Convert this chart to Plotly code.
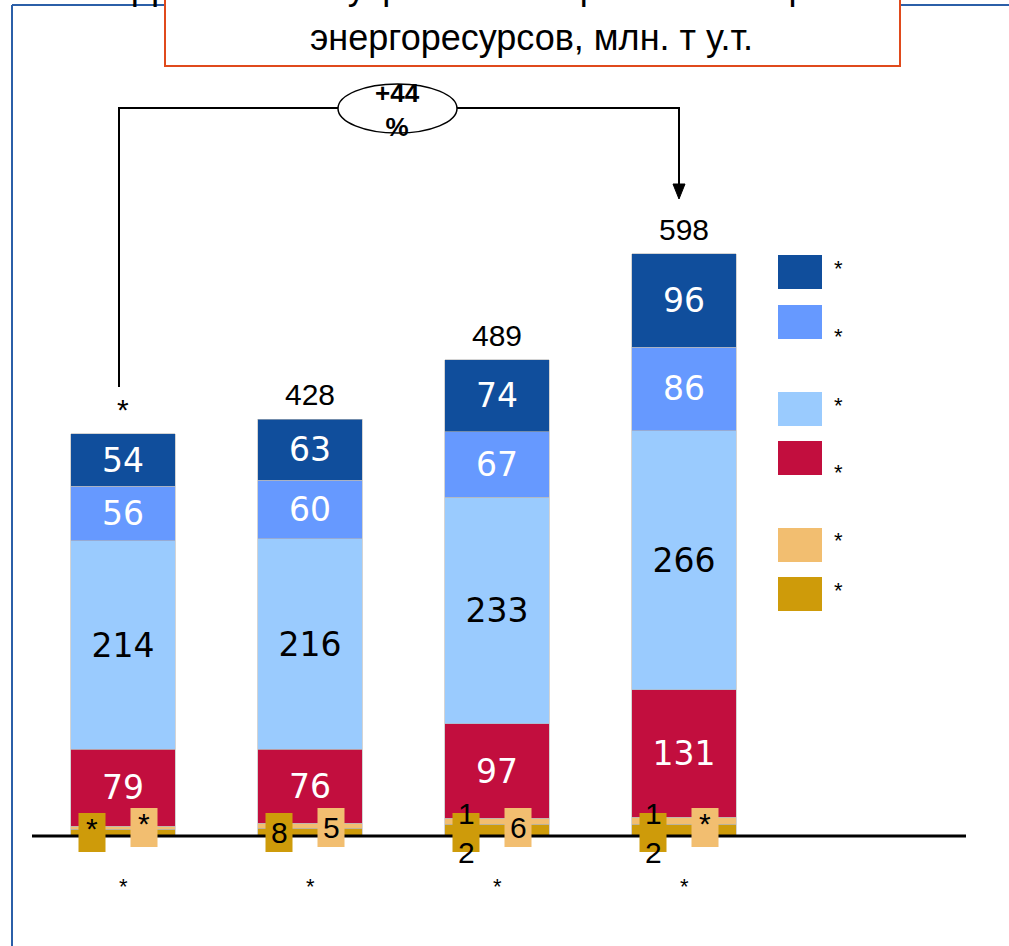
import plotly.graph_objects as go

# --- data -------------------------------------------------------------
periods = ["*", "*", "*", "*"]
period_totals = ["*", "428", "489", "598"]

coal = [7, 8, 12, 12]          # bottom segment (gold)
other = [3, 5, 6, 7]           # light orange
oil = [79, 76, 97, 131]        # crimson
gas = [214, 216, 233, 266]     # light blue
nuclear = [56, 60, 67, 86]     # medium blue
hydro = [54, 63, 74, 96]       # dark blue

coal_labels = ["*", "8", "1<br>2", "1<br>2"]
other_labels = ["*", "5", "6", "*"]

series = [
    ("*", coal, "#CE9B0A", None, None),
    ("*", other, "#F2BE70", None, None),
    ("*", oil, "#C20E3E", "white", True),
    ("*", gas, "#9ACBFE", "black", True),
    ("*", nuclear, "#6699FF", "white", True),
    ("*", hydro, "#104E9C", "white", True),
]
legend_labels = ["*", "*", "*", "*", "*", "*"]
growth_label = "<b>+44<br>%</b>"

title_line1 = "Динамика внутреннего потребления первичных"
title_line2 = "энергоресурсов, млн. т у.т."

# --- geometry ---------------------------------------------------------
W, H = 1009, 946
X0, DX = 123, 187          # pixel of first bar centre, pixels per category
Y0, DY = 836, 0.974        # pixel of zero line, pixels per unit


def px(x):
    return x / W


def py(y):
    return 1 - y / H


def dx(p):
    return p / DX


def dy(p):
    return p / DY


xs = list(range(len(periods)))

fig = go.Figure()
for name, vals, color, tcolor, show in series:
    fig.add_trace(go.Bar(
        x=xs, y=vals, name=name, width=0.56,
        marker=dict(color=color, line=dict(color="#b8b8b8", width=0.6)),
        text=[str(v) for v in vals] if show else None,
        textposition="inside" if show else "none",
        insidetextanchor="middle",
        textangle=0,
        textfont=dict(family="DejaVu Sans", size=33, color=tcolor or "black"),
        constraintext="none",
        showlegend=False,
        hoverinfo="skip",
    ))

totals = [sum(s[1][i] for s in series) for i in xs]

shapes = []
annotations = []

# outer frame and title box
frame_col = "#2B5FA8"
shapes.append(dict(type="line", xref="paper", yref="paper", x0=px(12), x1=px(12),
                   y0=py(5), y1=py(960), line=dict(color=frame_col, width=2)))
shapes.append(dict(type="line", xref="paper", yref="paper", x0=px(12), x1=px(1015),
                   y0=py(5), y1=py(5), line=dict(color=frame_col, width=2)))
shapes.append(dict(type="rect", xref="paper", yref="paper", x0=px(165), x1=px(900),
                   y0=py(66), y1=py(-40), fillcolor="white",
                   line=dict(color="#E04A1C", width=2)))
annotations.append(dict(xref="paper", yref="paper", x=px(531), y=py(9),
                        text=title_line1, showarrow=False, yanchor="bottom",
                        font=dict(family="Liberation Sans", size=36, color="black")))
annotations.append(dict(xref="paper", yref="paper", x=px(531), y=py(37),
                        text=title_line2, showarrow=False, yanchor="middle",
                        font=dict(family="Liberation Sans", size=36, color="black")))

# zero line
shapes.append(dict(type="line", xref="paper", yref="y", x0=px(32), x1=px(966),
                   y0=0, y1=0, line=dict(color="black", width=3)))

# totals above bars and category labels below
for i in xs:
    annotations.append(dict(x=i, y=totals[i], text=period_totals[i], showarrow=False,
                            yanchor="bottom", yshift=6,
                            font=dict(family="Liberation Sans", size=30, color="black")))
    annotations.append(dict(x=i, y=0, text=periods[i], showarrow=False,
                            yanchor="middle", yshift=-50,
                            font=dict(family="Liberation Sans", size=22, color="black")))

# small value tags for the two thin bottom segments
for i in xs:
    # gold tag
    shapes.append(dict(type="rect", xref="x", yref="y",
                       x0=i + dx(-44.5), x1=i + dx(-17.5),
                       y0=dy(Y0 - 852), y1=dy(Y0 - 813),
                       fillcolor="#CE9B0A", line=dict(width=0)))
    # light orange tag
    shapes.append(dict(type="rect", xref="x", yref="y",
                       x0=i + dx(7.5), x1=i + dx(34.5),
                       y0=dy(Y0 - 847), y1=dy(Y0 - 808),
                       fillcolor="#F2BE70", line=dict(width=0)))
    annotations.append(dict(x=i + dx(-31), y=dy(Y0 - 832.5), text=coal_labels[i],
                            showarrow=False, yanchor="middle",
                            yshift=4 if coal_labels[i] == "*" else 0,
                            font=dict(family="Liberation Sans", size=30, color="black")))
    annotations.append(dict(x=i + dx(21), y=dy(Y0 - 827.5), text=other_labels[i],
                            showarrow=False, yanchor="middle",
                            yshift=4 if other_labels[i] == "*" else 0,
                            font=dict(family="Liberation Sans", size=30, color="black")))

# growth bracket from first to last period
bx0, bx1, by = 119, 679, 108
shapes.append(dict(type="path", xref="paper", yref="paper",
                   path=f"M {px(bx0)} {py(387)} L {px(bx0)} {py(by)} L {px(bx1)} {py(by)} L {px(bx1)} {py(186)}",
                   line=dict(color="black", width=2)))
shapes.append(dict(type="path", xref="paper", yref="paper",
                   path=f"M {px(bx1-6)} {py(184)} L {px(bx1+6)} {py(184)} L {px(bx1)} {py(199)} Z",
                   fillcolor="black", line=dict(color="black", width=1)))
shapes.append(dict(type="circle", xref="paper", yref="paper",
                   x0=px(338), x1=px(457), y0=py(133), y1=py(84),
                   fillcolor="white", line=dict(color="black", width=1.5)))
annotations.append(dict(xref="paper", yref="paper", x=px(397), y=py(110),
                        text=growth_label, showarrow=False, yanchor="middle",
                        font=dict(family="Liberation Sans", size=26, color="black"),
                        ))

# legend swatches
legend_rows = [(255, 268), (305, 336), (392, 405), (441, 472), (528, 540), (577, 590)]
legend_colors = [s[2] for s in series][::-1]
for (top, star_y), col, lab in zip(legend_rows, legend_colors, legend_labels):
    shapes.append(dict(type="rect", xref="paper", yref="paper",
                       x0=px(778), x1=px(822), y0=py(top + 34), y1=py(top),
                       fillcolor=col, line=dict(width=0)))
    annotations.append(dict(xref="paper", yref="paper", x=px(832), y=py(star_y),
                            text=lab, showarrow=False, xanchor="left", yanchor="middle",
                            font=dict(family="Liberation Sans", size=22, color="black")))

fig.update_layout(
    width=W, height=H,
    margin=dict(l=0, r=0, t=0, b=0),
    barmode="stack",
    plot_bgcolor="white", paper_bgcolor="white",
    uniformtext=dict(minsize=8, mode="show"),
    xaxis=dict(range=[-X0 / DX, (W - X0) / DX], visible=False, fixedrange=True),
    yaxis=dict(range=[-(H - Y0) / DY, Y0 / DY], visible=False, fixedrange=True),
    shapes=shapes,
    annotations=annotations,
    showlegend=False,
)

fig.write_html("out.html")
